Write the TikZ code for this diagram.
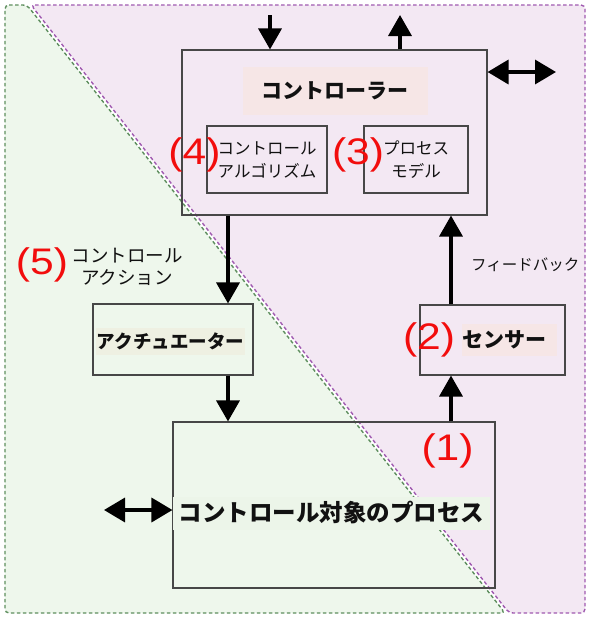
\documentclass[tikz,border=0pt]{standalone}
\usepackage{fontspec}
\setmainfont{Noto Sans CJK JP}
\newfontfamily\numfont[FakeStretch=1.15]{Liberation Sans}
\usepackage{xcolor}
\usepackage{tikz}
\usetikzlibrary{arrows.meta,positioning}
\definecolor{inkK}{HTML}{111111}
\definecolor{cGrn}{HTML}{5E8F5E}
\definecolor{lGrn}{HTML}{EEF7EC}
\definecolor{cPur}{HTML}{A05AB0}
\definecolor{lPur}{HTML}{F3E8F3}
\definecolor{lPnk}{HTML}{F6E6E6}
\definecolor{lBei}{HTML}{EEF0E2}
\definecolor{lTxt}{HTML}{ECF5E9}
\definecolor{numRed}{HTML}{F20D0D}

\begin{document}
\begin{tikzpicture}[x=1pt,y=-1pt,
  region/.style={line width=1.4pt, dash pattern=on 3.5pt off 2.5pt, rounded corners=4pt},
  blk/.style={draw=black!72, line width=1.1pt, inner sep=0pt},
  head/.style={text=inkK, inner sep=0pt, font=\bfseries\fontsize{21}{24}\selectfont},
  small/.style={text=inkK, align=center, font=\fontsize{16.5}{23}\selectfont},
  num/.style={text=numRed, inner sep=0pt, font=\numfont\fontsize{37}{40}\selectfont},
  flow/.style={-{Triangle[length=21pt,width=23pt]}, line width=3.5pt},
  twoway/.style={{Triangle[length=21pt,width=24pt]}-{Triangle[length=21pt,width=24pt]}, line width=3.5pt}]
  \useasboundingbox (0,0) rectangle (590,622);

  % the two areas
  \filldraw[region, fill=lGrn, draw=cGrn] (5,5) -- (27,5) -- (505,613) -- (5,613) -- cycle;
  \filldraw[region, fill=lPur, draw=cPur] (31,5) -- (585,5) -- (585,613) -- (509,613) -- cycle;

  % boxes
  \node[blk, minimum width=305pt, minimum height=165pt] (ctl) at (334.5,132.5) {};
  \node[head, fill=lPnk, minimum width=185pt, minimum height=48pt] (ctlTitle) at (335,91) {コントローラー};
  \node[blk, small, minimum width=120pt, minimum height=67pt] (algo) at (267,159.5) {コントロール\\アルゴリズム};
  \node[blk, small, minimum width=104pt, minimum height=67pt] (model) at (416,159.5) {プロセス\\モデル};

  \node[blk, minimum width=160pt, minimum height=71pt] (act) at (173,339.5) {};
  \node[head, fill=lBei, minimum width=149pt, minimum height=27pt, font=\bfseries\fontsize{18.5}{22}\selectfont] (actLbl) at (170.5,341) {アクチュエーター};

  \node[blk, minimum width=145pt, minimum height=70pt] (sens) at (492.5,340) {};
  \node[head, fill=lPnk, text width=95pt, minimum height=32pt, align=left] (sensLbl) at (509.5,340) {センサー};

  \node[blk, minimum width=322pt, minimum height=166pt] (proc) at (334,505) {};
  \node[head, fill=lTxt, minimum width=317pt, minimum height=33pt, font=\bfseries\fontsize{23.5}{26}\selectfont] (procLbl) at (331.5,513) {コントロール対象のプロセス};

  % connectors
  \coordinate (inTop) at (270,15);
  \coordinate (outTop) at (400,15);
  \coordinate (ctlSide) at (556,72);
  \coordinate (procSide) at (104,510);
  \coordinate (dnX) at (228,0);
  \coordinate (fbX) at (451,0);

  \draw[flow] (inTop) -- (inTop |- ctl.north);
  \draw[flow] (outTop |- ctl.north) -- (outTop);
  \draw[twoway] (ctl.east |- ctlSide) -- (ctlSide);
  \draw[twoway] (procSide) -- (procSide -| proc.west);
  \draw[flow] (dnX |- ctl.south) -- (dnX |- act.north);
  \draw[flow] (dnX |- act.south) -- (dnX |- proc.north);
  \draw[flow] (fbX |- proc.north) -- (fbX |- sens.south);
  \draw[flow] (fbX |- sens.north) -- (fbX |- ctl.south)
    node[pos=0.5, anchor=west, xshift=15pt, yshift=-5pt, small, font=\fontsize{15.5}{18}\selectfont] (fbLbl) {フィードバック};

  % numbered marks
  \node[num] (n1) at (447.5,451) {(1)};
  \node[num] (n2) at (429,340) {(2)};
  \node[num] (n3) at (358,155) {(3)};
  \node[num] (n4) at (194.5,155) {(4)};
  \node[num] (n5) at (42,265) {(5)};
  \node[small, font=\fontsize{18.5}{22}\selectfont] (actNote) at (127,267) {コントロール\\アクション};
\end{tikzpicture}
\end{document}
